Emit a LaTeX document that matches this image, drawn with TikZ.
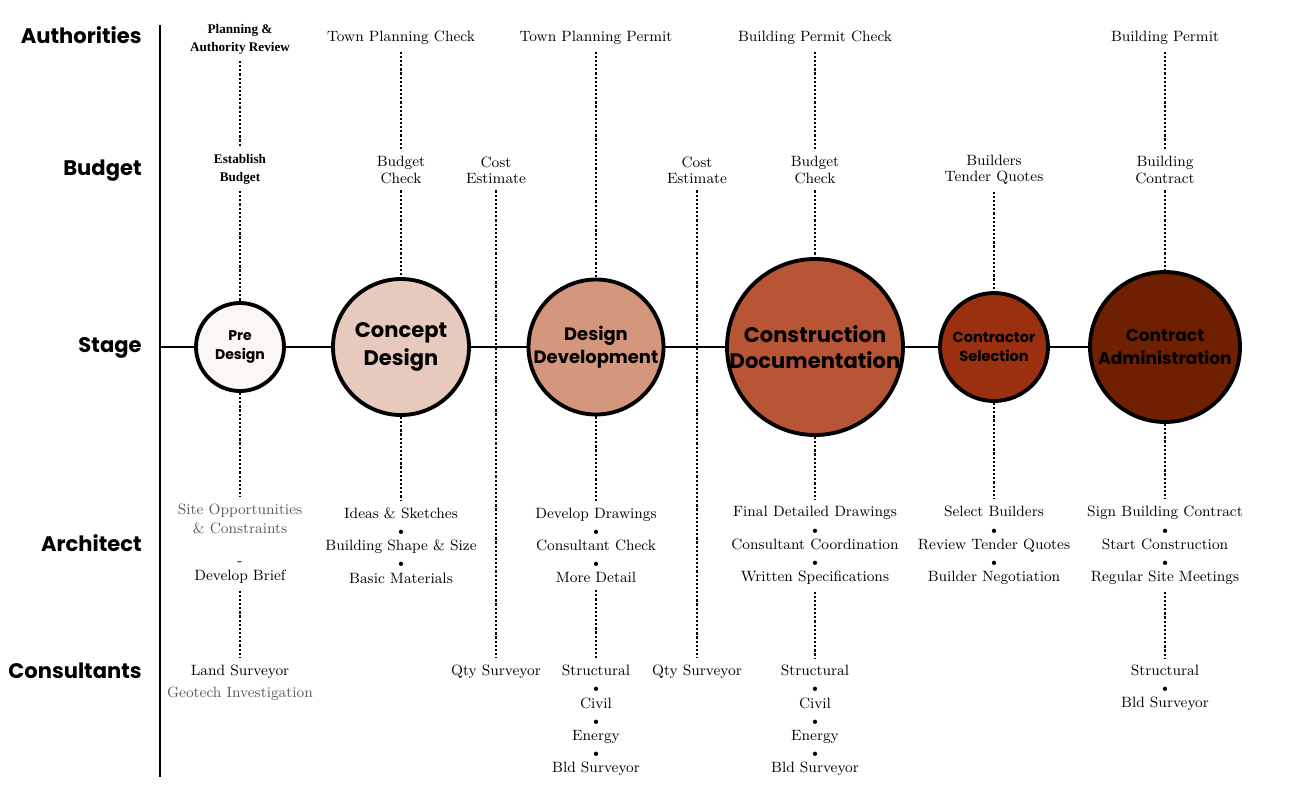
\documentclass[tikz,border=0pt]{standalone}
\usepackage{fontspec}
\newfontfamily\headfont{Poppins}
\newfontfamily\timesfont{Liberation Serif}
\usepackage{xcolor}
\definecolor{stagePre}{HTML}{FBF7F4}
\definecolor{stageCon}{HTML}{E8C9BE}
\definecolor{stageDev}{HTML}{D4967C}
\definecolor{stageDoc}{HTML}{B85535}
\definecolor{stageSel}{HTML}{9A3010}
\definecolor{stageAdm}{HTML}{6E2000}
\newcommand{\sepdot}{{\tiny$\bullet$}}
\usetikzlibrary{positioning}

\begin{document}
\begin{tikzpicture}[
  rowlab/.style={anchor=east,inner sep=0pt,font=\headfont\bfseries\fontsize{12}{14}\selectfont},
  stage/.style={circle,draw=black,line width=2.2pt,align=center,inner sep=0pt},
  txt/.style={align=center,inner sep=1pt,outer sep=3pt,
    font=\fontsize{8.5}{9.2}\selectfont},
  tbold/.style={txt,font=\timesfont\bfseries\fontsize{7.5}{10.2}\selectfont},
  dots/.style={line width=1.1pt,dash pattern=on 1.25pt off 1.1pt},
  axis/.style={line width=1.5pt}]
  \useasboundingbox (0,0) rectangle (25.86,-15.78);
  % row labels and axis
  \node[rowlab] (authL) at (2.84,-0.70) {Authorities};
  \node[rowlab] (budgL) at (2.84,-3.42) {Budget};
  \node[rowlab] (stageL) at (2.84,-6.96) {Stage};
  \node[rowlab] (archL) at (2.84,-10.86) {Architect};
  \node[rowlab] (consL) at (2.84,-13.42) {Consultants};
  \coordinate (axT) at (3.20,-0.50);
  \coordinate (axB) at (3.20,-15.54);
  \coordinate (axS) at (3.20,-6.94);
  \draw[axis] (axT)--(axB);
  % stages
  \node[stage,fill=stagePre,minimum size=1.76cm,
    font=\headfont\bfseries\fontsize{8}{10.5}\selectfont] (pre) at (4.80,-6.94) {Pre\\Design};
  \node[stage,fill=stageCon,minimum size=2.72cm,
    font=\headfont\bfseries\fontsize{12}{15.5}\selectfont] (concept) at (8.02,-6.94) {Concept\\Design};
  \node[stage,fill=stageDev,minimum size=2.70cm,
    font=\headfont\bfseries\fontsize{10.2}{13}\selectfont] (ddev) at (11.92,-6.94) {Design\\Development};
  \node[stage,fill=stageDoc,minimum size=3.52cm,
    font=\headfont\bfseries\fontsize{12}{15}\selectfont] (cdoc) at (16.30,-6.94) {Construction\\Documentation};
  \node[stage,fill=stageSel,minimum size=2.16cm,
    font=\headfont\bfseries\fontsize{8.3}{11}\selectfont] (csel) at (19.88,-6.94) {Contractor\\Selection};
  \node[stage,fill=stageAdm,minimum size=3.00cm,
    font=\headfont\bfseries\fontsize{9.7}{13}\selectfont] (cadm) at (23.30,-6.94) {Contract\\Administration};
  % pre design column
  \node[tbold] (preAuth) at (4.80,-0.78) {Planning \&\\Authority Review};
  \node[tbold] (preBudg) at (4.80,-3.38) {Establish\\Budget};
  \node[txt] (preArch) at (4.80,-10.88)
    {\textcolor{black!65}{Site Opportunities}\\[1.6pt]\textcolor{black!65}{\& Constraints}\\[9pt]
     -\\[-0.7pt]Develop Brief};
  \node[txt] (preCons) at (4.80,-13.66)
    {Land Surveyor\\[3.3pt]\textcolor{black!65}{Geotech Investigation}};
  % concept design column
  \node[txt] (conAuth) at (8.02,-0.76) {Town Planning Check};
  \node[txt] (conBudg) at (8.02,-3.40) {Budget\\Check};
  \node[txt] (conArch) at (8.02,-10.91)
    {Ideas \& Sketches\\\sepdot\\Building Shape \& Size\\\sepdot\\Basic Materials};
  % first cost estimate
  \node[txt] (ce1Budg) at (9.92,-3.40) {Cost\\Estimate};
  \node[txt] (ce1Cons) at (9.92,-13.44) {Qty Surveyor};
  % design development column
  \node[txt] (ddAuth) at (11.92,-0.76) {Town Planning Permit};
  \node[txt] (ddArch) at (11.92,-10.91)
    {Develop Drawings\\\sepdot\\Consultant Check\\\sepdot\\More Detail};
  \node[txt] (ddCons) at (11.92,-14.41)
    {Structural\\\sepdot\\Civil\\\sepdot\\Energy\\\sepdot\\Bld Surveyor};
  % second cost estimate
  \node[txt] (ce2Budg) at (13.94,-3.40) {Cost\\Estimate};
  \node[txt] (ce2Cons) at (13.94,-13.44) {Qty Surveyor};
  % construction documentation column
  \node[txt] (cdAuth) at (16.30,-0.76) {Building Permit Check};
  \node[txt] (cdBudg) at (16.30,-3.40) {Budget\\Check};
  \node[txt] (cdArch) at (16.30,-10.91)
    {Final Detailed Drawings\\\sepdot\\Consultant Coordination\\\sepdot\\Written Specifications};
  \node[txt] (cdCons) at (16.30,-14.41)
    {Structural\\\sepdot\\Civil\\\sepdot\\Energy\\\sepdot\\Bld Surveyor};
  % contractor selection column
  \node[txt] (csBudg) at (19.88,-3.40) {Builders\\Tender Quotes};
  \node[txt] (csArch) at (19.88,-10.91)
    {Select Builders\\\sepdot\\Review Tender Quotes\\\sepdot\\Builder Negotiation};
  % contract administration column
  \node[txt] (caAuth) at (23.30,-0.76) {Building Permit};
  \node[txt] (caBudg) at (23.30,-3.40) {Building\\Contract};
  \node[txt] (caArch) at (23.30,-10.91)
    {Sign Building Contract\\\sepdot\\Start Construction\\\sepdot\\Regular Site Meetings};
  \node[txt] (caCons) at (23.30,-13.76) {Structural\\\sepdot\\Bld Surveyor};
  % stage line
  \draw[axis] (axS)--(pre)--(concept)--(ddev)--(cdoc)--(csel)--(cadm);
  % dotted links
  \draw[dots] (preAuth)--(preBudg);
  \draw[dots] (preBudg)--(pre);
  \draw[dots] (pre)--(preArch);
  \draw[dots] (preArch)--(preCons);
  \draw[dots] (conAuth)--(conBudg);
  \draw[dots] (conBudg)--(concept);
  \draw[dots] (concept)--(conArch);
  \draw[dots] (ce1Budg)--(ce1Cons);
  \draw[dots] (ddAuth)--(ddev);
  \draw[dots] (ddev)--(ddArch);
  \draw[dots] (ddArch)--(ddCons);
  \draw[dots] (ce2Budg)--(ce2Cons);
  \draw[dots] (cdAuth)--(cdBudg);
  \draw[dots] (cdBudg)--(cdoc);
  \draw[dots] (cdoc)--(cdArch);
  \draw[dots] (cdArch)--(cdCons);
  \draw[dots] (csBudg)--(csel);
  \draw[dots] (csel)--(csArch);
  \draw[dots] (caAuth)--(caBudg);
  \draw[dots] (caBudg)--(cadm);
  \draw[dots] (cadm)--(caArch);
  \draw[dots] (caArch)--(caCons);
\end{tikzpicture}
\end{document}
